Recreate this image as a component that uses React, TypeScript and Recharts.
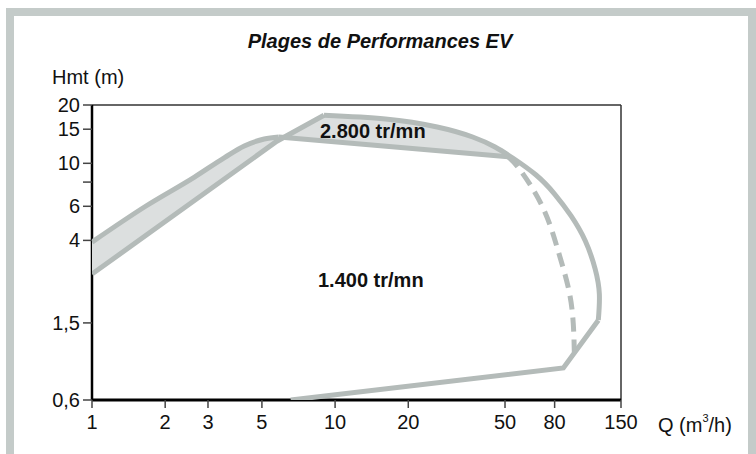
import React from 'react';
import { ComposedChart, Scatter, XAxis, YAxis, ReferenceLine } from 'recharts';

// Tick values and labels
const xTicks = [1, 2, 3, 5, 10, 20, 50, 80, 150];
const yTicks = [0.6, 1.5, 4, 6, 8, 10, 15, 20];
const yTickLabels: Record<string, string> = {
  '0.6': '0,6', '1.5': '1,5', '4': '4', '6': '6', '8': '', '10': '10', '15': '15', '20': '20',
};

// 2.800 tr/mn : rising line from lower left to the peak
const riseA = [
  { q: 1, h: 2.68 },
  { q: 5.76, h: 13.0 },
  { q: 9.0, h: 17.7 },
];

// outer solid arc from the peak down to the right-hand corner
const outerArc = [
  { q: 9.0, h: 17.7 },
  { q: 16.1, h: 16.93 },
  { q: 26.3, h: 15.4 },
  { q: 36.8, h: 13.67 },
  { q: 45.5, h: 12.14 },
  { q: 53.8, h: 10.65 },
  { q: 67.1, h: 8.7 },
  { q: 80, h: 6.94 },
  { q: 93.5, h: 5.35 },
  { q: 107, h: 3.97 },
  { q: 117.4, h: 2.85 },
  { q: 122.2, h: 2.11 },
  { q: 121, h: 1.55 },
];

// lower outer boundary (corner, then down to the Q axis)
const outerLower = [
  { q: 121, h: 1.55 },
  { q: 86.9, h: 0.878 },
  { q: 6.57, h: 0.6 },
];

// upper line at the left, lower edge of the shaded band at the top
const lowerB = [
  { q: 1, h: 3.92 },
  { q: 1.668, h: 6.02 },
  { q: 2.64, h: 8.49 },
  { q: 3.51, h: 10.7 },
  { q: 4.23, h: 12.29 },
  { q: 5.11, h: 13.35 },
  { q: 5.87, h: 13.67 },
  { q: 51.5, h: 10.8 },
];

// dashed limit curve
const dashed = [
  { q: 51.5, h: 10.8 },
  { q: 57.7, h: 9.23 },
  { q: 71.4, h: 5.95 },
  { q: 82.5, h: 3.57 },
  { q: 91.5, h: 2.22 },
  { q: 95.4, h: 1.5 },
  { q: 96.4, h: 1.06 },
];

const shaded = [...riseA, ...outerArc.slice(1, 5), ...lowerB.slice().reverse()];

const LINE = '#b4bbb9';
const FILL = '#dcdfdf';
const FONT = '"Liberation Sans", Arial, Helvetica, sans-serif';

const noShape = () => <g />;

const strokeLine = (dash?: string) => ({
  stroke: LINE,
  strokeWidth: 5,
  fill: 'none',
  strokeLinejoin: 'miter' as const,
  ...(dash ? { strokeDasharray: dash } : {}),
});

export default function App() {
  return (
    <div style={{ position: 'fixed', left: 0, top: 0, width: 756, height: 454, background: '#fff', overflow: 'hidden', fontFamily: FONT }}>
      <div style={{ position: 'absolute', left: 6, top: 8, width: 734, height: 480, border: '8px solid #c4cbc9', borderBottom: 'none' }} />
      <div style={{ position: 'absolute', left: 0, top: 0 }}>
        <ComposedChart width={756} height={454} margin={{ top: 105, right: 135, bottom: 14, left: 32 }}>
          <Scatter data={shaded} dataKey="h" shape={noShape} line={{ fill: FILL, stroke: 'none' }} lineJointType="linear" isAnimationActive={false} />
          <Scatter data={riseA} dataKey="h" shape={noShape} line={strokeLine()} lineJointType="linear" isAnimationActive={false} />
          <Scatter data={outerArc} dataKey="h" shape={noShape} line={strokeLine()} lineJointType="natural" isAnimationActive={false} />
          <Scatter data={outerLower} dataKey="h" shape={noShape} line={strokeLine()} lineJointType="linear" isAnimationActive={false} />
          <Scatter data={lowerB.slice(0, 7)} dataKey="h" shape={noShape} line={strokeLine()} lineJointType="monotoneX" isAnimationActive={false} />
          <Scatter data={lowerB.slice(6)} dataKey="h" shape={noShape} line={strokeLine()} lineJointType="linear" isAnimationActive={false} />
          <Scatter data={dashed} dataKey="h" shape={noShape} line={strokeLine('14 8')} lineJointType="natural" isAnimationActive={false} />
          <ReferenceLine y={20} stroke="#333" strokeWidth={1.5} />
          <ReferenceLine x={150} stroke="#333" strokeWidth={1.5} />
          <XAxis
            dataKey="q"
            type="number"
            scale="log"
            domain={[1, 150]}
            allowDataOverflow
            ticks={xTicks}
            interval={0}
            height={40}
            tickSize={8}
            tickMargin={7}
            axisLine={{ stroke: '#000', strokeWidth: 3 }}
            tickLine={{ stroke: '#444', strokeWidth: 1.5 }}
            tick={{ fontSize: 20, fill: '#111', fontFamily: FONT }}
          />
          <YAxis
            dataKey="h"
            type="number"
            scale="log"
            domain={[0.6, 20]}
            allowDataOverflow
            ticks={yTicks}
            interval={0}
            width={60}
            tickSize={9}
            tickMargin={3}
            axisLine={{ stroke: '#000', strokeWidth: 2.5 }}
            tickLine={{ stroke: '#444', strokeWidth: 1.5 }}
            tick={{ fontSize: 20, fill: '#111', fontFamily: FONT }}
            tickFormatter={(v: number) => yTickLabels[String(v)] ?? String(v)}
          />
        </ComposedChart>
      </div>
      <svg width={756} height={454} style={{ position: 'absolute', left: 0, top: 0, pointerEvents: 'none' }}>
        <text x={380} y={48} textAnchor="middle" fontSize={20} fontWeight="bold" fontStyle="italic" fill="#111" fontFamily={FONT}>Plages de Performances EV</text>
        <text x={52} y={84} fontSize={20} fill="#111" fontFamily={FONT}>Hmt (m)</text>
        <text x={320} y={138} fontSize={20} fontWeight="bold" fill="#111" fontFamily={FONT}>2.800 tr/mn</text>
        <text x={318} y={287} fontSize={20} fontWeight="bold" fill="#111" fontFamily={FONT}>1.400 tr/mn</text>
        <text x={658} y={432} fontSize={20} fill="#111" fontFamily={FONT}>Q (m<tspan fontSize={11} dy={-10}>3</tspan><tspan dy={10}>/h)</tspan></text>
      </svg>
    </div>
  );
}
